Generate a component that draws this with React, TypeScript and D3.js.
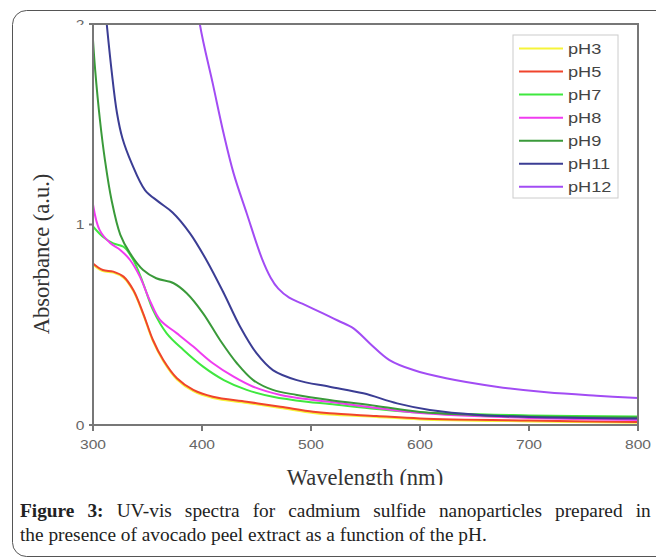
import React, { useLayoutEffect, useRef, useState } from "react";
import * as d3 from "d3";

const xTicks = [300, 400, 500, 600, 700, 800];
const yTicks = [0, 1, 2];
const seriesNames = ["pH3", "pH5", "pH7", "pH8", "pH9", "pH11", "pH12"];
const seriesColors = ["#f6f43a", "#f0442c", "#3fe83f", "#f03cf0", "#3a9a3a", "#3b3d94", "#a24cf4"];

const pH3 = [[300, 0.8], [309, 0.768], [318.6, 0.76], [328, 0.735], [337, 0.668], [346, 0.552], [355, 0.418], [364.5, 0.318], [377, 0.227], [392, 0.169], [410, 0.135], [441, 0.11], [472, 0.085], [502, 0.06], [517, 0.052], [560, 0.04], [600, 0.028], [700, 0.018], [800, 0.011]];
const pH5 = [[300, 0.806], [309, 0.773], [318.6, 0.765], [328, 0.74], [337, 0.673], [346, 0.557], [355, 0.424], [364.5, 0.324], [377, 0.233], [392, 0.175], [410, 0.141], [441, 0.116], [472, 0.091], [502, 0.066], [517, 0.058], [560, 0.045], [600, 0.033], [700, 0.022], [800, 0.015]];
const pH7 = [[300, 0.99], [309, 0.939], [318.6, 0.906], [328, 0.889], [337, 0.823], [346, 0.707], [355, 0.574], [367.6, 0.457], [383, 0.374], [401, 0.291], [420, 0.224], [441, 0.175], [465, 0.141], [496, 0.116], [517, 0.105], [560, 0.08], [600, 0.062], [700, 0.048], [800, 0.042]];
const pH8 = [[300, 1.1], [306, 0.973], [316, 0.906], [325, 0.873], [334, 0.823], [343, 0.74], [352, 0.623], [361.5, 0.524], [377, 0.457], [392, 0.391], [410, 0.308], [429, 0.241], [447, 0.191], [472, 0.15], [502, 0.125], [517, 0.116], [560, 0.085], [600, 0.06], [700, 0.035], [800, 0.025]];
const pH9 = [[300, 1.92], [302, 1.77], [306.4, 1.52], [311, 1.32], [317, 1.122], [325, 0.95], [334, 0.856], [346, 0.773], [358, 0.732], [374, 0.707], [386, 0.657], [401, 0.557], [416.5, 0.424], [432, 0.308], [447, 0.224], [465, 0.175], [487, 0.15], [517, 0.125], [560, 0.095], [600, 0.065], [650, 0.05], [700, 0.042], [800, 0.037]];
const pH11 = [[310, 2.15], [312.6, 2.0], [317, 1.77], [322, 1.556], [327, 1.43], [335.5, 1.305], [347.7, 1.172], [360, 1.114], [373, 1.06], [389, 0.956], [404, 0.823], [420, 0.657], [435, 0.49], [450, 0.358], [465, 0.274], [487, 0.224], [517, 0.191], [548, 0.158], [579, 0.108], [609, 0.075], [655, 0.05], [700, 0.04], [800, 0.032]];
const pH12 = [[390, 2.35], [398, 2.0], [410, 1.7], [420, 1.45], [429, 1.255], [441, 1.056], [455, 0.83], [463, 0.735], [470, 0.68], [480, 0.635], [492, 0.605], [511, 0.557], [525, 0.52], [539, 0.482], [554, 0.407], [572, 0.324], [594, 0.274], [624, 0.233], [670, 0.191], [716, 0.163], [762, 0.146], [800, 0.135]];
const seriesData = [pH3, pH5, pH7, pH8, pH9, pH11, pH12];

const captionBold = "Figure 3:";
const captionLine1 = " UV-vis spectra for cadmium sulfide nanoparticles prepared in";
const captionLine2 = "the presence of avocado peel extract as a function of the pH.";

export default function App() {
  const left = 93, right = 638, top = 24, bottom = 425;
  const x = d3.scaleLinear().domain([300, 800]).range([left, right]);
  const y = d3.scaleLinear().domain([0, 2]).range([bottom, top]);
  const line = d3
    .line<number[]>()
    .x((d) => x(d[0]))
    .y((d) => y(d[1]))
    .curve(d3.curveCatmullRom.alpha(0.5));
  const tickFont = "Arial, 'Liberation Sans', sans-serif";
  const serif = "'Liberation Serif', 'DejaVu Serif', serif";
  const legX = 513, legY = 35, legW = 105, legH = 163, legStep = 23.06;
  const stretch = 1.3;

  const l1Ref = useRef<SVGTextElement>(null);
  const l2Ref = useRef<SVGTextElement>(null);
  const [cap, setCap] = useState({ k: 1, ws: 0 });
  useLayoutEffect(() => {
    if (!l1Ref.current || !l2Ref.current) return;
    const w1 = l1Ref.current.getComputedTextLength();
    const w2 = l2Ref.current.getComputedTextLength();
    const k = 467 / w2;
    const spaces = (captionBold + captionLine1).split(" ").length - 1;
    const ws = Math.max(0, (631 / k - w1) / spaces);
    setCap({ k, ws });
  }, []);

  return (
    <svg width={656} height={559} style={{ position: "absolute", left: 0, top: 0, background: "#fff" }}>
      <defs>
        <clipPath id="plotClip">
          <rect x={left} y={top} width={right - left} height={bottom - top} />
        </clipPath>
        <clipPath id="twoClip">
          <rect x={0} y={19} width={656} height={6} />
        </clipPath>
        <clipPath id="titleClip">
          <rect x={0} y={0} width={656} height={485} />
        </clipPath>
      </defs>
      <rect x={12.5} y={10.5} width={720} height={546} rx={14} fill="none" stroke="#555" strokeWidth={1} />
      <g clipPath="url(#plotClip)">
        {seriesData.map((s, i) => (
          <path key={seriesNames[i]} d={line(s) || ""} fill="none" stroke={seriesColors[i]} strokeWidth={2} />
        ))}
      </g>
      <rect x={left} y={top} width={right - left} height={bottom - top} fill="none" stroke="#777" strokeWidth={2} />
      {xTicks.map((t) => (
        <g key={"x" + t}>
          <line x1={x(t)} x2={x(t)} y1={bottom} y2={bottom + 6} stroke="#777" strokeWidth={2} />
          <text
            transform={`translate(${x(t)},449) scale(${stretch},1)`}
            textAnchor="middle"
            fontFamily={tickFont}
            fontSize={12}
            fill="#666"
          >
            {t}
          </text>
        </g>
      ))}
      {yTicks.map((t) => (
        <g key={"y" + t} clipPath={t === 2 ? "url(#twoClip)" : undefined}>
          <line x1={left - 4} x2={left} y1={y(t)} y2={y(t)} stroke="#777" strokeWidth={2} />
          <text
            transform={`translate(80,${y(t) + 4.5}) scale(${stretch},1)`}
            textAnchor="middle"
            fontFamily={tickFont}
            fontSize={12}
            fill="#666"
          >
            {t}
          </text>
        </g>
      ))}
      <text
        transform="translate(49,254) rotate(-90)"
        textAnchor="middle"
        fontFamily={serif}
        fontSize={22.5}
        fill="#333"
      >
        Absorbance (a.u.)
      </text>
      <g clipPath="url(#titleClip)">
        <text x={365} y={485} textAnchor="middle" fontFamily={serif} fontSize={22.5} fill="#333">
          Wavelength (nm)
        </text>
      </g>
      <rect x={legX} y={legY} width={legW} height={legH} fill="#fff" stroke="#ccc" strokeWidth={1} />
      {seriesNames.map((n, i) => {
        const ly = legY + 13.5 + i * legStep;
        return (
          <g key={"leg" + n}>
            <line x1={519} x2={563} y1={ly} y2={ly} stroke={seriesColors[i]} strokeWidth={2} />
            <text
              transform={`translate(568,${ly + 5}) scale(${stretch},1)`}
              fontFamily={tickFont}
              fontSize={14}
              fill="#444"
            >
              {n}
            </text>
          </g>
        );
      })}
      <g transform={`translate(20,0) scale(${cap.k},1)`}>
        <text ref={l1Ref} x={0} y={517} fontFamily={serif} fontSize={19.5} fill="#222" wordSpacing={cap.ws} style={{ whiteSpace: "pre" }}>
          <tspan fontWeight="bold">{captionBold}</tspan>
          <tspan>{captionLine1}</tspan>
        </text>
        <text ref={l2Ref} x={0} y={541} fontFamily={serif} fontSize={19.5} fill="#222">
          {captionLine2}
        </text>
      </g>
    </svg>
  );
}
